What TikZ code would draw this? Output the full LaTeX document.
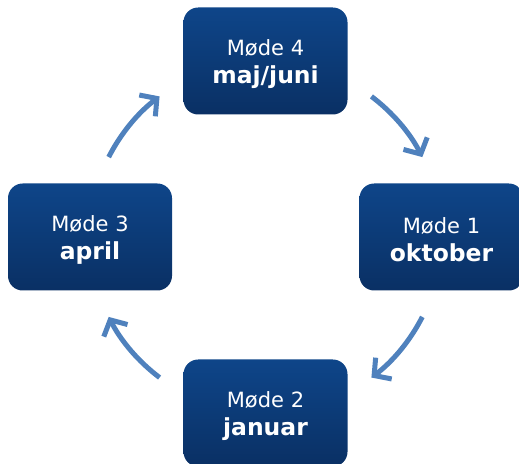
\documentclass[tikz,border=0pt]{standalone}
\usepackage{fontspec}
\setmainfont{DejaVu Sans}
\usetikzlibrary{arrows.meta,calc}
\definecolor{boxtop}{HTML}{0E4589}
\definecolor{boxbot}{HTML}{0A3064}
\definecolor{cycblue}{HTML}{4F81BD}
\newcommand{\meet}[2]{\rule{0pt}{16.5pt}#1\\{\fontsize{17.6}{21}\selectfont\bfseries #2}}

\begin{document}
\begin{tikzpicture}[x=0.75pt,y=0.75pt,
    meeting/.style={rounded corners=11pt,top color=boxtop,bottom color=boxbot,text=white,
        minimum width=123pt,minimum height=80.25pt,align=center,
        font=\fontsize{15.75}{21}\selectfont},
    cycarrow/.style={draw=cycblue,line width=3.75pt,-{Straight Barb[length=9pt,width=20pt]}}]
    \useasboundingbox (0,0) rectangle (519,464);
    \coordinate (c) at (265.5,227);
    \node[meeting] at (265.5,403) (m4) {\meet{Møde 4}{maj/juni}};
    \node[meeting] at (441.5,227) (m1) {\meet{Møde 1}{oktober}};
    \node[meeting] at (265.5,51) (m2) {\meet{Møde 2}{januar}};
    \node[meeting] at (90,227) (m3) {\meet{Møde 3}{april}};
    \foreach \a/\n in {53/a41,-27/a12,-127/a23,153/a34} {
        \coordinate (\n) at ($(c)+(\a:132pt)$);
        \draw[cycarrow] (\n) arc[start angle=\a,end angle=\a-26,radius=132pt];
    }
\end{tikzpicture}
\end{document}
